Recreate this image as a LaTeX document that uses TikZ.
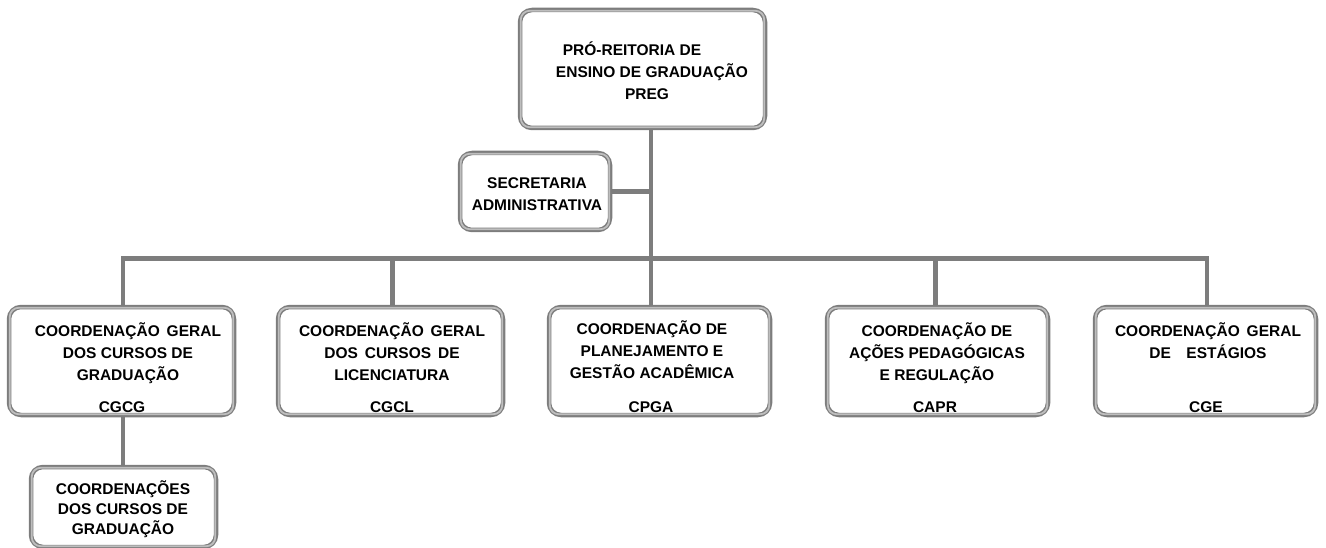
\documentclass[tikz,border=0pt]{standalone}
\usepackage{fontspec}
\setmainfont{Liberation Sans}
\usetikzlibrary{backgrounds}
\definecolor{edge}{RGB}{125,125,125}
\definecolor{ring}{RGB}{190,190,190}
\tikzset{
  boxst/.style={draw=edge, line width=4.5pt, rounded corners=12pt, fill=white, inner sep=0pt},
  ringst/.style={draw=ring, line width=1.8pt, rounded corners=9pt},
  txt/.style={font=\bfseries\fontsize{15.5}{22}\selectfont, align=center, inner sep=0pt, text=black},
  wire/.style={draw=edge, line width=4.5pt}
}
\begin{document}
\begin{tikzpicture}[x=1pt,y=-1pt]
\useasboundingbox (0,0) rectangle (1326,548);
% boxes
\node[boxst, minimum width=245, minimum height=118] (preg) at (642.5,69) {};
\node[boxst, minimum width=150, minimum height=77] (sec) at (535,191.5) {};
\node[boxst, minimum width=225, minimum height=108] (cgcg) at (121.5,361) {};
\node[boxst, minimum width=225, minimum height=108] (cgcl) at (390.5,361) {};
\node[boxst, minimum width=221, minimum height=108] (cpga) at (659.5,361) {};
\node[boxst, minimum width=221, minimum height=108] (capr) at (937.5,361) {};
\node[boxst, minimum width=221, minimum height=108] (cge) at (1205.5,361) {};
\node[boxst, minimum width=185, minimum height=80] (cdg) at (123.5,507) {};
\foreach \n in {preg,sec,cgcg,cgcl,cpga,capr,cge,cdg}
  \draw[ringst] ([shift={(3pt,3pt)}]\n.south west) rectangle ([shift={(-3pt,-3pt)}]\n.north east);
% texts
\node[txt] (preg-t) at (647,71) {PRÓ-REITORIA DE\hspace*{30pt}\\ \hspace*{10pt}ENSINO DE GRADUAÇÃO\\PREG};
\node[txt] (sec-t) at (537,194) {SECRETARIA\\ADMINISTRATIVA};
\node[txt, anchor=north] (cgcg-t) at (128,322.5) {COORDENAÇÃO\, GERAL\\DOS CURSOS DE\\GRADUAÇÃO};
\node[txt, anchor=north] (cgcl-t) at (392,322.5) {COORDENAÇÃO\, GERAL\\DOS\, CURSOS\, DE\\LICENCIATURA};
\node[txt, anchor=north] (cpga-t) at (652,321) {COORDENAÇÃO DE\\PLANEJAMENTO E\\GESTÃO ACADÊMICA};
\node[txt, anchor=north] (capr-t) at (937,322.5) {COORDENAÇÃO DE\\AÇÕES PEDAGÓGICAS\\E REGULAÇÃO};
\node[txt, anchor=north] (cge-t) at (1208,323) {COORDENAÇÃO\, GERAL\\DE\quad ESTÁGIOS};
\node[txt] (cgcg-c) at (122,407) {CGCG};
\node[txt] (cgcl-c) at (392,407) {CGCL};
\node[txt] (cpga-c) at (651,407) {CPGA};
\node[txt] (capr-c) at (935,407) {CAPR};
\node[txt] (cge-c) at (1206,407) {CGE};
\node[txt, font=\bfseries\fontsize{15.5}{20}\selectfont] (cdg-t) at (123,509) {COORDENAÇÕES\\DOS CURSOS DE\\GRADUAÇÃO};
% connectors
\coordinate (jt) at (651,258.5);
\coordinate (bl) at (123,258.5);
\coordinate (br) at (1207,258.5);
\begin{scope}[on background layer]
\draw[wire] (preg.south -| jt) -- (jt |- cpga.north);
\draw[wire] (sec.east) -- (sec.east -| jt);
\draw[wire, line cap=rect] (bl) -- (br);
\draw[wire] (bl) -- (bl |- cgcg.north);
\draw[wire] (br) -- (br |- cge.north);
\draw[wire] (jt -| cgcl.north) ++(2,0) -- ([xshift=2pt]cgcl.north);
\draw[wire] (jt -| capr.north) ++(-2,0) -- ([xshift=-2pt]capr.north);
\draw[wire] (cgcg.south -| bl) -- (cdg.north -| bl);
\end{scope}
\end{tikzpicture}
\end{document}
